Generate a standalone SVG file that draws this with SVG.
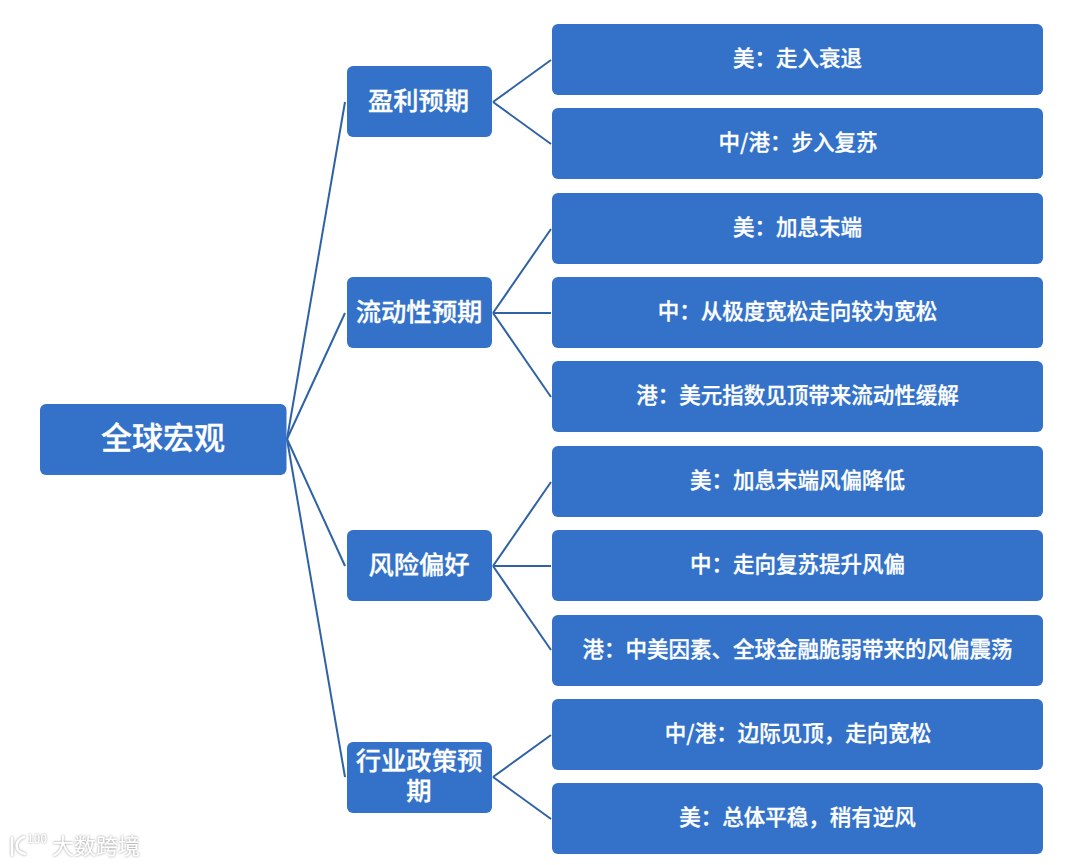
<svg xmlns="http://www.w3.org/2000/svg" width="1080" height="865" viewBox="0 0 1080 865">
<style>
.b{fill:#3372c8}
.t{fill:#fff;stroke:#fff;stroke-width:.3;font-family:"Noto Sans CJK SC","Noto Sans",sans-serif;font-weight:500;text-anchor:middle;dominant-baseline:central}
.l{font-size:21.5px}.m{font-size:25.3px}.r{font-size:31px}
#connectors line{stroke:#2f62a5;stroke-width:2}
.wm{font-family:"Noto Sans CJK SC",sans-serif;fill:#fff;filter:url(#glow)}
.wl{fill:none;stroke:#fff;stroke-width:2.400;stroke-linecap:round;filter:url(#glow)}
</style>
<defs><filter id="glow" x="-30%" y="-30%" width="160%" height="160%"><feDropShadow dx="0" dy="0" stdDeviation="1" flood-color="#8a8a8a"/></filter></defs>
<rect width="1080" height="865" fill="#fff"/>
<g id="connectors">
<line x1="287" y1="439" x2="345" y2="102"/><line x1="287" y1="439" x2="345" y2="313"/><line x1="287" y1="439" x2="345" y2="566"/><line x1="287" y1="439" x2="345" y2="777"/>
<line x1="493" y1="102" x2="551" y2="60"/><line x1="493" y1="102" x2="551" y2="144"/>
<line x1="493" y1="313" x2="551" y2="229"/><line x1="493" y1="313" x2="551" y2="313"/><line x1="493" y1="313" x2="551" y2="397"/>
<line x1="493" y1="566" x2="551" y2="482"/><line x1="493" y1="566" x2="551" y2="566"/><line x1="493" y1="566" x2="551" y2="650"/>
<line x1="493" y1="777" x2="551" y2="735"/><line x1="493" y1="777" x2="551" y2="819"/>
</g>
<g id="root"><rect class="b" x="40" y="404" width="246.500" height="71" rx="6"/><text class="t r" x="163" y="435.500">全球宏观</text></g>
<g id="n1"><rect class="b" x="347" y="66" width="145" height="71" rx="6"/><text class="t m" x="418.500" y="98.500">盈利预期</text></g>
<g id="n2"><rect class="b" x="347" y="277" width="145" height="71" rx="6"/><text class="t m" x="419" y="309.500">流动性预期</text></g>
<g id="n3"><rect class="b" x="347" y="530" width="145" height="71" rx="6"/><text class="t m" x="419" y="562.500">风险偏好</text></g>
<g id="n4"><rect class="b" x="347" y="742" width="145" height="71" rx="6"/><text class="t m" y="758.500"><tspan x="419">行业政策预</tspan><tspan x="419" dy="30">期</tspan></text></g>
<g id="a1"><rect class="b" x="552" y="24" width="491" height="71" rx="6"/><text class="t l" x="797.500" y="56.500">美：走入衰退</text></g>
<g id="a2"><rect class="b" x="552" y="108" width="491" height="71" rx="6"/><text class="t l" x="798" y="140.500">中/港：步入复苏</text></g>
<g id="b1"><rect class="b" x="552" y="193" width="491" height="71" rx="6"/><text class="t l" x="797.500" y="225.500">美：加息末端</text></g>
<g id="b2"><rect class="b" x="552" y="277" width="491" height="71" rx="6"/><text class="t l" x="797.500" y="309.500">中：从极度宽松走向较为宽松</text></g>
<g id="b3"><rect class="b" x="552" y="361" width="491" height="71" rx="6"/><text class="t l" x="797.500" y="393.500">港：美元指数见顶带来流动性缓解</text></g>
<g id="c1"><rect class="b" x="552" y="446" width="491" height="71" rx="6"/><text class="t l" x="797.500" y="478.500">美：加息末端风偏降低</text></g>
<g id="c2"><rect class="b" x="552" y="530" width="491" height="71" rx="6"/><text class="t l" x="797.500" y="562.500">中：走向复苏提升风偏</text></g>
<g id="c3"><rect class="b" x="552" y="615" width="491" height="71" rx="6"/><text class="t l" x="797.500" y="647.500">港：中美因素、全球金融脆弱带来的风偏震荡</text></g>
<g id="d1"><rect class="b" x="552" y="699" width="491" height="71" rx="6"/><text class="t l" x="798" y="731.500">中/港：边际见顶，走向宽松</text></g>
<g id="d2"><rect class="b" x="552" y="783" width="491" height="71" rx="6"/><text class="t l" x="797.500" y="815.500">美：总体平稳，稍有逆风</text></g>
<g id="watermark">
<path class="wl" d="M12 838L12 855M24 837C15 840 13 851 25 854"/>
<text class="wm" x="52" y="854" font-size="22">大数跨境</text>
<text class="wm" x="27" y="843" font-size="11.500" textLength="20">100</text>
</g>
</svg>
